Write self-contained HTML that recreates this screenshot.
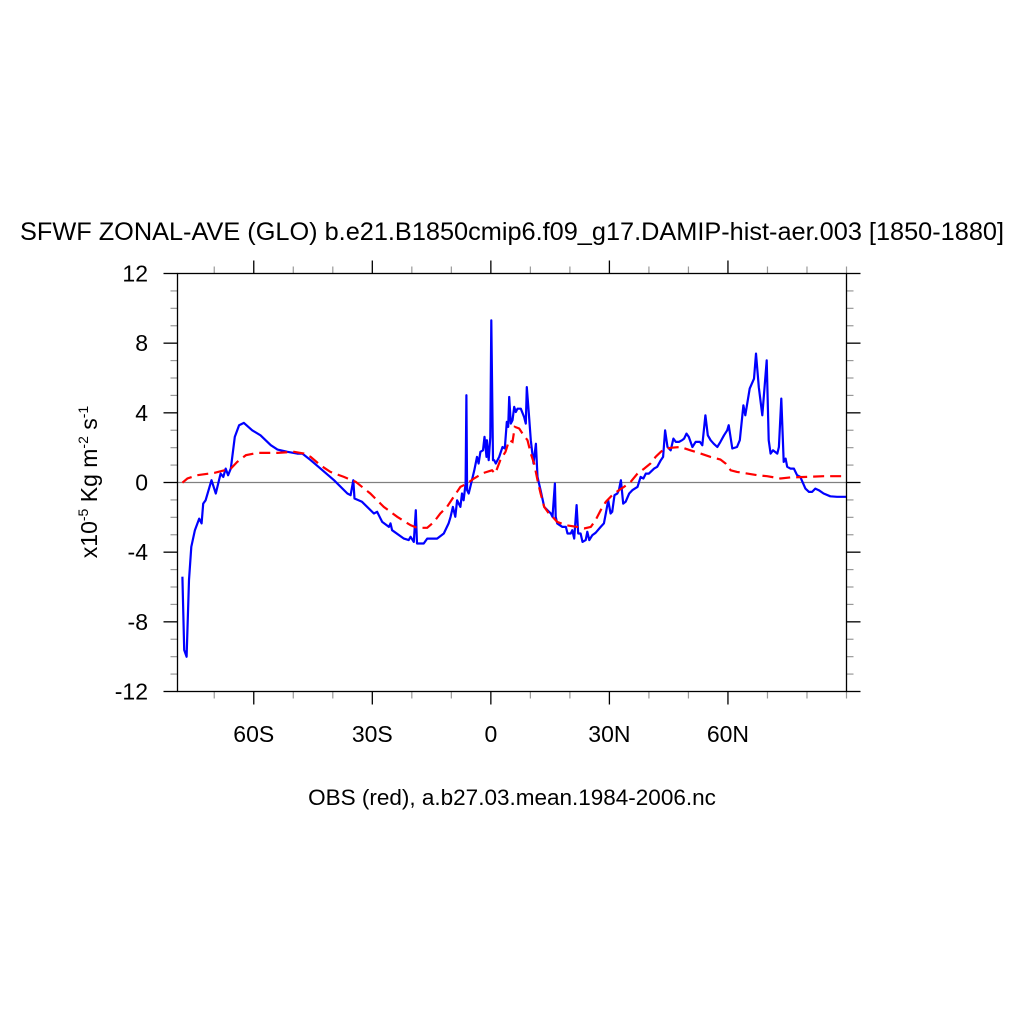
<!DOCTYPE html>
<html><head><meta charset="utf-8"><style>
html,body{margin:0;padding:0;background:#fff;}
svg{display:block;font-family:"Liberation Sans",Arial,sans-serif;}
</style></head><body>
<svg id="chart" width="1024" height="1024" viewBox="0 0 1024 1024" xmlns="http://www.w3.org/2000/svg">
<rect width="1024" height="1024" fill="#fff"/>
<text x="512" y="240" font-size="25" text-anchor="middle" textLength="984" lengthAdjust="spacingAndGlyphs">SFWF ZONAL-AVE (GLO) b.e21.B1850cmip6.f09_g17.DAMIP-hist-aer.003 [1850-1880]</text>
<text transform="translate(97,482) rotate(-90)" font-size="23" text-anchor="middle">x10<tspan font-size="14" dy="-9">-5</tspan><tspan dy="9"> Kg m</tspan><tspan font-size="14" dy="-9">-2</tspan><tspan dy="9"> s</tspan><tspan font-size="14" dy="-9">-1</tspan></text>
<text x="512" y="805" font-size="22.5" text-anchor="middle">OBS (red), a.b27.03.mean.1984-2006.nc</text>
<g id="plot"></g>
</svg>
<script>
const xTickVals=[-60,-30,0,30,60];
const xTickLabels=["60S","30S","0","30N","60N"];
const yTickVals=[-12,-8,-4,0,4,8,12];
const yTickLabels=["-12","-8","-4","0","4","8","12"];
const modelLon=[-78.05,-77.6,-77.0,-76.4,-75.8,-74.9,-73.8,-73.2,-72.8,-72.2,-70.7,-69.6,-68.4,-67.7,-67.1,-66.5,-65.8,-64.8,-63.7,-62.5,-60.4,-58.3,-55.7,-54.0,-51.5,-49.0,-47.7,-45.6,-43.1,-39.7,-36.3,-35.5,-34.8,-34.5,-32.6,-29.6,-28.8,-27.5,-25.8,-25.4,-25.0,-22.0,-20.8,-20.3,-19.5,-19.0,-18.7,-17.0,-16.1,-13.6,-11.9,-10.7,-10.2,-9.6,-9.0,-8.55,-7.7,-7.3,-6.9,-6.4,-6.2,-6.0,-5.6,-4.8,-4.2,-3.5,-3.1,-2.65,-2.0,-1.6,-1.1,-1.0,-0.55,-0.13,0.1,0.55,0.84,1.26,2.1,2.95,3.54,4.04,4.38,4.63,5.05,5.48,5.9,6.32,6.74,7.58,8.42,8.85,9.1,9.69,10.1,10.8,11.4,11.8,12.6,13.5,14.3,15.2,15.6,16.2,16.4,16.8,18.1,19.0,19.4,20.2,20.6,21.1,21.7,22.1,22.7,23.2,24.0,24.4,24.9,25.7,26.5,27.8,28.6,29.1,29.7,30.3,30.7,31.3,32.0,32.4,32.9,33.5,34.1,35.0,35.8,37.1,37.9,38.6,39.2,40.0,41.3,42.1,43.0,43.6,44.1,44.7,45.5,46.2,46.8,47.6,48.4,48.9,49.5,50.1,51.0,51.8,52.9,53.5,54.3,54.9,55.6,56.4,57.3,58.1,59.0,59.8,60.2,61.1,62.3,63.0,63.9,64.4,65.5,66.6,67.1,67.8,68.7,69.8,70.3,70.8,71.4,72.5,72.9,73.5,74.1,74.6,75.0,75.8,76.7,77.5,78.3,79.6,80.5,81.3,82.1,83.0,84.2,85.9,87.6,90.0];
const modelVal=[-5.41,-9.62,-10.0,-5.6,-3.69,-2.74,-2.07,-2.35,-1.21,-1.02,0.13,-0.63,0.51,0.32,0.8,0.42,0.8,2.62,3.29,3.42,3.0,2.71,2.14,1.89,1.76,1.66,1.66,1.28,0.8,0.13,-0.63,-0.73,0.13,-0.92,-1.11,-1.78,-1.68,-2.26,-2.55,-2.35,-2.74,-3.22,-3.31,-3.12,-3.41,-1.59,-3.5,-3.5,-3.22,-3.22,-2.93,-2.35,-1.97,-1.4,-1.97,-1.02,-1.4,-0.63,-1.02,-0.06,5.01,-0.44,-0.63,0.13,0.7,1.47,1.09,1.76,1.85,2.62,1.47,2.43,1.28,2.62,9.31,1.28,1.28,1.09,1.47,2.04,1.95,3.48,3.19,4.91,3.38,3.57,4.34,4.05,4.24,4.24,3.76,3.38,5.48,3.76,2.43,1.09,2.23,0.32,-0.44,-1.4,-1.59,-1.78,-1.97,-0.06,-1.97,-2.35,-2.55,-2.55,-2.93,-2.93,-2.74,-3.22,-1.3,-2.93,-2.93,-3.41,-3.31,-2.83,-3.31,-3.02,-2.89,-2.55,-2.35,-1.78,-1.02,-1.78,-1.68,-0.73,-0.63,-0.44,0.13,-1.21,-1.11,-0.63,-0.44,-0.25,0.32,0.23,0.51,0.51,0.8,0.9,1.28,1.47,2.99,2.04,1.85,2.52,2.33,2.33,2.43,2.52,2.81,2.62,2.04,2.33,2.33,2.14,3.86,2.71,2.43,2.23,2.04,2.33,2.71,3.0,3.29,1.95,2.04,2.43,4.43,3.86,5.39,5.96,7.4,5.48,3.86,7.01,2.43,1.66,1.85,1.66,2.04,4.82,1.18,1.37,0.9,0.8,0.8,0.42,0.32,-0.35,-0.54,-0.54,-0.35,-0.44,-0.63,-0.79,-0.82,-0.82];
const obsLon=[-78.05,-76.8,-74.3,-70.0,-65.8,-64.2,-62.0,-59.1,-54.0,-49.8,-47.3,-45.6,-43.1,-40.6,-37.2,-34.2,-30.5,-27.1,-23.7,-20.3,-18.7,-16.1,-14.4,-12.8,-11.1,-9.4,-7.7,-6.0,-4.3,-1.8,0.3,1.1,2.4,3.7,4.63,5.48,6.07,7.16,8.0,9.27,10.1,10.95,11.8,12.6,13.5,14.7,15.6,16.8,19.0,21.9,23.6,25.3,26.5,27.8,29.1,30.7,32.4,33.7,35.4,37.1,38.8,40.4,41.7,43.0,44.2,45.9,48.0,50.5,53.1,55.6,58.1,59.4,60.7,62.3,64.9,67.4,69.9,73.3,75.8,80.0,84.2,90.0];
const obsVal=[-0.01,0.23,0.42,0.55,0.8,1.18,1.57,1.7,1.7,1.76,1.66,1.47,0.99,0.61,0.32,0.04,-0.63,-1.4,-1.97,-2.45,-2.6,-2.6,-2.26,-1.78,-1.4,-0.82,-0.25,-0.06,0.23,0.55,0.7,0.51,1.28,1.76,2.43,2.33,3.19,3.1,2.81,2.43,1.66,1.09,0.13,-0.63,-1.4,-1.78,-1.97,-2.26,-2.45,-2.55,-2.64,-2.55,-2.16,-1.59,-1.11,-0.73,-0.44,-0.25,0.04,0.51,0.8,1.09,1.47,1.76,1.95,2.0,2.04,1.85,1.66,1.47,1.32,1.09,0.7,0.61,0.51,0.42,0.36,0.23,0.29,0.32,0.36,0.36];

const L=177.5,R=846.5,T=273.5,B=691.5;
const xMin=-79.3,xMax=90;
const X=v=>L+(v-xMin)/(xMax-xMin)*(R-L);
const Y=v=>B-(v+12)/24*(B-T);
const NS="http://www.w3.org/2000/svg";
const g=document.getElementById('plot');
function mk(tag,attrs){const e=document.createElementNS(NS,tag);for(const k in attrs)e.setAttribute(k,attrs[k]);g.appendChild(e);return e;}

const z=mk('line',{x1:L,x2:R,y1:Y(0),y2:Y(0),stroke:'#808080','stroke-width':1.2});



for(let v=-70;v<=90;v+=10){
  if(xTickVals.includes(v))continue;
  const x=X(v);
  const t1=mk('line',{x1:x,x2:x,y1:T,y2:T-7,stroke:'#999','stroke-width':1.2});
  
  
  const t2=mk('line',{x1:x,x2:x,y1:B,y2:B+7,stroke:'#999','stroke-width':1.2});
  
  
}
for(let v=-11;v<=11;v++){
  if(v%4===0)continue;
  const y=Y(v);
  const t1=mk('line',{x1:L,x2:L-7,y1:y,y2:y,stroke:'#999','stroke-width':1.2});
  
  
  const t2=mk('line',{x1:R,x2:R+7,y1:y,y2:y,stroke:'#999','stroke-width':1.2});
  
  
}
xTickVals.forEach((v,i)=>{
  const x=X(v);
  const a=mk('line',{x1:x,x2:x,y1:T,y2:T-13,stroke:'#000','stroke-width':1.3});
  
  
  const b=mk('line',{x1:x,x2:x,y1:B,y2:B+13,stroke:'#000','stroke-width':1.3});
  
  
  const t=mk('text',{x:x,y:742,'font-size':23,'text-anchor':'middle'});
  t.textContent=xTickLabels[i];
  
  
});
yTickVals.forEach((v,i)=>{
  const y=Y(v);
  const a=mk('line',{x1:L,x2:L-14,y1:y,y2:y,stroke:'#000','stroke-width':1.3});
  
  
  const b=mk('line',{x1:R,x2:R+14,y1:y,y2:y,stroke:'#000','stroke-width':1.3});
  
  
  const t=mk('text',{x:148,y:y+8,'font-size':23,'text-anchor':'end'});
  t.textContent=yTickLabels[i];
  
  
});

function pts(xs,ys){return xs.map((v,i)=>X(v).toFixed(1)+','+Y(ys[i]).toFixed(1)).join(' ');}
const m=mk('polyline',{points:pts(modelLon,modelVal),fill:'none',stroke:'#0000ff','stroke-width':2.2,'stroke-linejoin':'round'});


const o=mk('polyline',{points:pts(obsLon,obsVal),fill:'none',stroke:'#ff0000','stroke-width':2.2,'stroke-dasharray':'11,6'});



const f=mk('rect',{x:L,y:T,width:R-L,height:B-T,fill:'none',stroke:'#000','stroke-width':1.3});


</script>
</body></html>
